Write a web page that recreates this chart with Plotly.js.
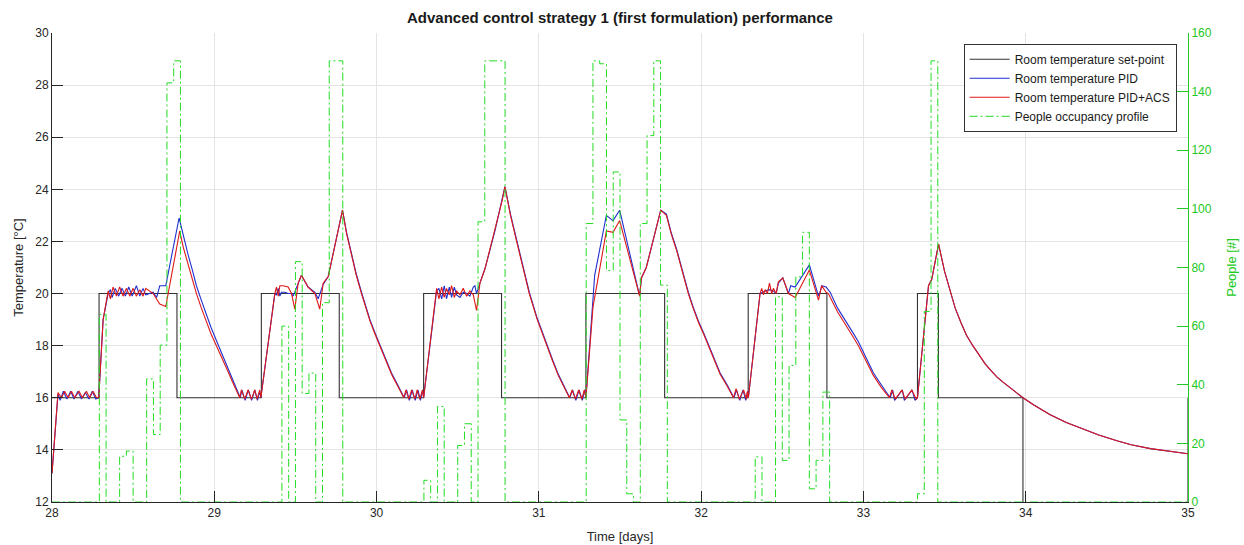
<!DOCTYPE html>
<html>
<head>
<meta charset="utf-8">
<script src="https://cdn.plot.ly/plotly-3.0.1.min.js"></script>
<style>html,body{margin:0;padding:0;background:#fff;}#chart{width:1244px;height:545px;}</style>
</head>
<body>
<div id="chart"></div>
<script>
// ---- Data ----
const setpointTime = [28, 28.29, 28.77, 29.29, 29.77, 30.29, 30.77, 31.29, 31.775, 32.29, 32.775, 33.333, 33.462, 33.983, 35, 35];
const setpointTemp = [16, 20, 16, 20, 16, 20, 16, 20, 16, 20, 16, 20, 16, 0, 16, 16];

const acsTime = [28.000,28.037,28.058,28.078,28.099,28.120,28.140,28.167,28.187,28.212,28.232,28.253,28.274,28.288,28.315,28.346,28.360,28.376,28.397,28.417,28.438,28.459,28.479,28.500,28.520,28.541,28.561,28.578,28.623,28.664,28.701,28.787,28.810,28.838,28.865,28.890,28.920,28.951,28.980,29.013,29.050,29.085,29.120,29.157,29.167,29.188,29.208,29.229,29.249,29.264,29.280,29.287,29.373,29.383,29.394,29.404,29.424,29.455,29.476,29.496,29.517,29.537,29.578,29.620,29.650,29.671,29.702,29.790,29.815,29.846,29.875,29.907,29.935,29.959,29.990,30.020,30.055,30.092,30.130,30.168,30.181,30.199,30.216,30.236,30.250,30.267,30.283,30.290,30.370,30.384,30.401,30.417,30.431,30.448,30.462,30.479,30.493,30.514,30.534,30.555,30.575,30.596,30.616,30.637,30.668,30.729,30.775,30.791,30.825,30.863,30.900,30.941,30.990,31.048,31.085,31.120,31.155,31.188,31.205,31.225,31.245,31.265,31.280,31.290,31.334,31.416,31.457,31.498,31.621,31.632,31.662,31.703,31.751,31.786,31.815,31.849,31.885,31.921,31.950,31.983,32.015,32.045,32.080,32.117,32.160,32.199,32.215,32.235,32.262,32.278,32.285,32.291,32.363,32.373,32.384,32.394,32.408,32.421,32.435,32.445,32.462,32.476,32.503,32.538,32.579,32.667,32.723,32.743,32.770,32.784,32.840,32.897,32.935,32.969,33.015,33.062,33.110,33.160,33.175,33.196,33.237,33.257,33.298,33.325,33.333,33.401,33.421,33.463,33.500,33.535,33.565,33.600,33.635,33.674,33.710,33.750,33.785,33.822,33.860,33.900,33.940,33.983,34.050,34.151,34.250,34.357,34.450,34.562,34.650,34.768,34.880,35.000];
const acsTemp = [13.1,16.2,16.0,16.25,16.0,16.25,16.0,16.25,16.0,16.25,16.0,16.25,16.0,16.0,19.0,20.1,19.8,20.25,19.9,20.25,19.9,20.2,19.9,20.2,19.9,20.15,19.9,20.2,20.0,19.6,19.5,22.4,21.75,21.1,20.5,20.0,19.45,18.95,18.45,18.0,17.45,17.0,16.5,16.0,16.3,15.95,16.3,15.95,16.3,15.95,16.3,16.0,20.0,20.25,19.9,20.3,20.3,20.25,20.0,19.4,20.4,20.7,20.25,20.0,19.4,20.4,20.65,23.2,22.3,21.5,20.7,20.0,19.45,18.95,18.45,18.0,17.45,16.9,16.45,16.0,16.3,15.95,16.3,15.95,16.3,15.95,16.3,16.0,20.2,19.8,20.25,19.85,20.2,19.95,20.3,19.85,20.1,19.95,20.2,19.9,20.1,19.95,19.35,20.4,20.95,22.4,23.6,24.1,23.0,22.0,21.0,20.0,19.0,18.0,17.4,16.85,16.4,16.0,16.3,15.95,16.3,15.95,16.3,16.0,19.5,22.4,22.35,22.8,19.9,20.6,21.0,22.0,23.2,23.0,22.3,21.65,20.8,20.0,19.45,18.9,18.45,18.0,17.45,16.9,16.45,16.0,16.35,15.95,16.3,15.95,16.25,16.0,20.0,20.2,19.95,20.15,20.0,20.4,20.0,20.2,20.0,20.45,20.6,20.0,19.85,20.9,19.75,20.3,20.05,20.0,19.3,18.7,18.35,18.0,17.4,16.85,16.4,16.0,16.3,15.95,16.3,15.95,16.3,15.95,16.0,20.3,20.55,21.9,20.85,20.05,19.45,18.9,18.4,18.0,17.65,17.3,17.05,16.8,16.6,16.4,16.2,16.0,15.72,15.35,15.05,14.8,14.57,14.35,14.2,14.05,13.94,13.85];

const pidTime = [28.000,28.037,28.050,28.070,28.092,28.115,28.136,28.160,28.182,28.205,28.228,28.248,28.270,28.288,28.315,28.346,28.360,28.370,28.390,28.410,28.432,28.452,28.473,28.494,28.520,28.541,28.561,28.578,28.623,28.645,28.664,28.701,28.783,28.810,28.838,28.865,28.890,28.920,28.951,28.980,29.013,29.050,29.085,29.120,29.160,29.170,29.190,29.210,29.230,29.250,29.266,29.280,29.287,29.373,29.383,29.394,29.404,29.414,29.435,29.455,29.476,29.486,29.496,29.517,29.537,29.578,29.620,29.640,29.650,29.671,29.702,29.790,29.815,29.846,29.875,29.907,29.935,29.959,29.990,30.020,30.055,30.092,30.130,30.170,30.185,30.202,30.220,30.238,30.255,30.270,30.284,30.290,30.370,30.384,30.401,30.417,30.431,30.448,30.462,30.479,30.493,30.514,30.534,30.555,30.575,30.596,30.606,30.616,30.637,30.668,30.729,30.775,30.791,30.825,30.863,30.900,30.941,30.990,31.048,31.085,31.120,31.155,31.190,31.208,31.228,31.248,31.268,31.282,31.290,31.344,31.416,31.457,31.498,31.621,31.632,31.662,31.703,31.751,31.786,31.815,31.849,31.885,31.921,31.950,31.983,32.015,32.045,32.080,32.117,32.160,32.202,32.218,32.238,32.258,32.275,32.286,32.291,32.363,32.375,32.394,32.421,32.445,32.462,32.476,32.503,32.538,32.552,32.579,32.667,32.723,32.735,32.743,32.770,32.795,32.840,32.897,32.935,32.969,33.015,33.062,33.115,33.165,33.180,33.192,33.240,33.252,33.300,33.318,33.333,33.401,33.421,33.463,33.500,33.535,33.565,33.600,33.635,33.674,33.710,33.750,33.785,33.822,33.860,33.900,33.940,33.983,34.050,34.151,34.250,34.357,34.450,34.562,34.650,34.768,34.880,35.000];
const pidTemp = [13.1,16.15,15.9,16.25,15.95,16.25,15.95,16.25,15.95,16.2,15.95,16.25,15.95,16.0,19.0,20.0,20.15,19.85,20.2,19.9,20.2,19.9,20.25,19.9,20.3,19.9,20.2,19.95,20.05,19.85,20.3,20.3,22.9,22.15,21.5,20.9,20.3,19.75,19.2,18.7,18.2,17.65,17.15,16.6,16.0,16.3,15.9,16.3,15.9,16.3,15.9,16.25,16.0,20.0,19.95,20.2,19.9,20.05,20.05,20.0,20.0,19.9,20.05,20.4,20.7,20.25,20.05,19.8,20.0,20.35,20.65,23.2,22.35,21.55,20.75,20.05,19.5,19.0,18.5,18.05,17.5,16.95,16.5,16.0,16.3,15.9,16.3,15.9,16.3,15.9,16.3,16.0,20.1,20.2,19.8,20.3,19.8,20.25,19.85,20.25,19.95,19.85,20.05,20.0,19.9,20.25,20.3,20.0,20.4,20.95,22.4,23.6,24.1,23.05,22.05,21.05,20.05,19.05,18.05,17.45,16.9,16.45,16.0,16.3,15.9,16.3,15.9,16.3,16.0,20.7,23.0,22.8,23.2,19.9,20.6,21.0,22.0,23.2,23.05,22.35,21.7,20.85,20.05,19.5,18.95,18.5,18.05,17.5,16.95,16.5,16.0,16.3,15.9,16.3,15.9,16.25,16.0,20.0,20.05,20.1,20.15,20.1,20.0,20.4,20.6,20.0,20.3,20.25,21.1,19.9,20.1,20.3,20.25,20.05,19.45,18.85,18.5,18.15,17.55,16.95,16.45,16.0,16.3,15.9,16.3,15.9,16.3,15.9,16.0,20.3,20.55,21.9,20.85,20.05,19.45,18.9,18.4,18.0,17.65,17.3,17.05,16.8,16.6,16.4,16.2,16.0,15.72,15.35,15.05,14.8,14.57,14.35,14.2,14.05,13.94,13.85];

const peopleTime = [28.0,28.2917,28.3333,28.4167,28.4583,28.5,28.5833,28.625,28.6667,28.7083,28.75,28.7917,
  29.4167,29.4583,29.5,29.5417,29.5833,29.625,29.6667,29.7083,29.7917,
  30.2917,30.3333,30.375,30.4167,30.5,30.5417,30.5833,30.625,30.6667,30.7917,
  31.2917,31.3333,31.375,31.4167,31.4583,31.5,31.5417,31.5833,31.625,31.6667,31.7083,31.75,31.7917,
  32.3333,32.375,32.4583,32.5,32.5417,32.5833,32.625,32.6667,32.7083,32.75,32.7917,
  33.3333,33.375,33.4167,33.4583,35.0];
const peopleCount = [0,64,0,15.6,17.4,0,42,23,53.5,143,150.5,0,
  60,0,82,37,44,0,68,150.5,0,
  7.4,0,32.6,0,19.3,26.7,0,95.6,150.5,0,
  95,150.5,149.5,79,112.6,28,2.8,0,95,125,150.5,74,0,
  15.4,0,70,14.2,46.6,76.8,92,4.5,14.2,37.5,0,
  2.8,65,150.5,0,0];

// ---- Chart ----
const FONT = "'Liberation Sans', Arial, Helvetica, sans-serif";
const GREEN_LINE = '#22dd22';
const GREEN_AX = '#22c922';
const traces = [
  {x: setpointTime, y: setpointTemp, name: 'Room temperature set-point', type: 'scatter', mode: 'lines',
   line: {color: '#333333', width: 1.1, shape: 'hv'}},
  {x: pidTime, y: pidTemp, name: 'Room temperature PID', type: 'scatter', mode: 'lines',
   line: {color: '#1f2fd0', width: 1.1}},
  {x: acsTime, y: acsTemp, name: 'Room temperature PID+ACS', type: 'scatter', mode: 'lines',
   line: {color: '#e01818', width: 1.1}},
  {x: peopleTime, y: peopleCount, name: 'People occupancy profile', type: 'scatter', mode: 'lines', yaxis: 'y2',
   line: {color: GREEN_LINE, width: 1, shape: 'hv', dash: '8px,3px,2px,3px'}}
];
const layout = {
  width: 1244, height: 545,
  margin: {l: 52, r: 56, t: 33, b: 43},
  paper_bgcolor: '#ffffff', plot_bgcolor: '#ffffff',
  font: {family: FONT, size: 12, color: '#262626'},
  showlegend: true,
  title: {text: '<b>Advanced control strategy 1 (first formulation) performance</b>',
          font: {family: FONT, size: 15, color: '#1a1a1a'},
          x: 0.5, xref: 'paper', y: 0.968, yref: 'container', yanchor: 'middle'},
  xaxis: {range: [28, 35], dtick: 1, tick0: 28, ticks: 'inside', ticklen: 11, tickcolor: '#262626',
          showgrid: true, gridcolor: '#e4e4e4', zeroline: false, showline: true, linecolor: '#262626', linewidth: 1,
          tickfont: {size: 12, color: '#262626'},
          title: {text: 'Time [days]', font: {size: 13, color: '#262626'}, standoff: 12}},
  yaxis: {range: [12, 30], dtick: 2, tick0: 12, ticks: 'inside', ticklen: 11, tickcolor: '#262626',
          showgrid: true, gridcolor: '#e4e4e4', zeroline: false, showline: true, linecolor: '#262626', linewidth: 1,
          tickfont: {size: 12, color: '#262626'},
          title: {text: 'Temperature [°C]', font: {size: 13, color: '#262626'}, standoff: 8}},
  yaxis2: {range: [0, 160], dtick: 20, tick0: 0, overlaying: 'y', side: 'right', ticks: 'inside', ticklen: 11,
          tickcolor: GREEN_AX, showgrid: false, zeroline: false, showline: true, linecolor: GREEN_AX, linewidth: 1,
          tickfont: {size: 12, color: GREEN_AX},
          title: {text: 'People [#]', font: {size: 13, color: GREEN_AX}, standoff: 16}},
  legend: {x: 0.99, y: 0.977, xanchor: 'right', yanchor: 'top', bgcolor: '#ffffff',
           bordercolor: '#333333', borderwidth: 1, font: {size: 12, color: '#1a1a1a'},
           itemwidth: 40, tracegroupgap: 0}
};
Plotly.newPlot('chart', traces, layout, {staticPlot: true, displayModeBar: false});
</script>
</body>
</html>
